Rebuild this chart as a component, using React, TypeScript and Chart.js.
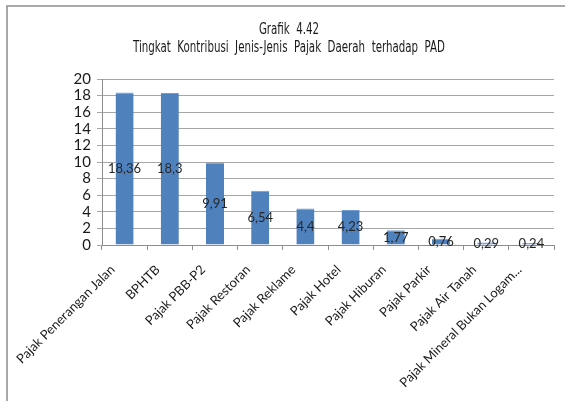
import React, { useEffect, useRef } from "react";
import { Chart, registerables } from "chart.js";

Chart.register(...registerables);

const titleLines = ["Grafik  4.42", "Tingkat  Kontribusi  Jenis-Jenis  Pajak  Daerah  terhadap  PAD"];
const categories = [
  "Pajak Penerangan Jalan",
  "BPHTB",
  "Pajak PBB-P2",
  "Pajak Restoran",
  "Pajak Reklame",
  "Pajak Hotel",
  "Pajak Hiburan",
  "Pajak Parkir",
  "Pajak Air Tanah",
  "Pajak Mineral Bukan Logam...",
];
const values = [18.36, 18.3, 9.91, 6.54, 4.4, 4.23, 1.77, 0.76, 0.29, 0.24];
const valueLabels = ["18,36", "18,3", "9,91", "6,54", "4,4", "4,23", "1,77", "0,76", "0,29", "0,24"];
const yMin = 0;
const yMax = 20;
const yStep = 2;

const LABEL_FONT = "Lato, 'Open Sans', sans-serif";
const TITLE_FONT = "'Liberation Sans Narrow', 'DejaVu Sans Condensed', sans-serif";

const framePlugin = {
  id: "frame",
  beforeDraw(chart: any) {
    const ctx = chart.ctx;
    ctx.save();
    ctx.fillStyle = "#ffffff";
    ctx.fillRect(0, 0, chart.width, chart.height);
    ctx.strokeStyle = "#8c8c8c";
    ctx.lineWidth = 1.5;
    ctx.beginPath();
    ctx.moveTo(7, chart.height);
    ctx.lineTo(7, 6);
    ctx.lineTo(chart.width, 6);
    ctx.stroke();
    ctx.restore();
  },
};

const titlePlugin = {
  id: "narrowTitle",
  afterDraw(chart: any) {
    const ctx = chart.ctx;
    ctx.save();
    ctx.font = `15px ${TITLE_FONT}`;
    ctx.fillStyle = "#1a1a1a";
    ctx.textAlign = "center";
    ctx.textBaseline = "middle";
    const natural = ctx.measureText(titleLines[1]).width;
    const ratio = Math.min(1, 312 / natural);
    const cx = 289;
    const ys = [30, 48];
    titleLines.forEach((t, i) => {
      const w = ctx.measureText(t).width * ratio;
      ctx.fillText(t, cx, ys[i], w);
    });
    ctx.restore();
  },
};

const valueLabelPlugin = {
  id: "valueLabels",
  afterDatasetsDraw(chart: any) {
    const ctx = chart.ctx;
    const meta = chart.getDatasetMeta(0);
    ctx.save();
    ctx.font = `13px ${LABEL_FONT}`;
    ctx.fillStyle = "#262626";
    ctx.textAlign = "center";
    ctx.textBaseline = "middle";
    meta.data.forEach((bar: any, i: number) => {
      const y = (bar.y + bar.base) / 2;
      ctx.fillText(valueLabels[i], bar.x, y);
    });
    ctx.restore();
  },
};

export default function App() {
  const ref = useRef<HTMLCanvasElement>(null);
  useEffect(() => {
    document.body.style.margin = "0";
    const chart = new Chart(ref.current!, {
      type: "bar",
      data: {
        labels: categories,
        datasets: [
          {
            data: values,
            backgroundColor: "#4F81BD",
            borderColor: "#6f9bd0",
            borderWidth: { top: 1, left: 0, right: 0, bottom: 0 },
            barPercentage: 0.4,
            categoryPercentage: 1,
          },
        ],
      },
      options: {
        animation: false,
        responsive: false,
        layout: { padding: { left: 0, right: 11, top: 79, bottom: 0 } },
        plugins: {
          legend: { display: false },
          tooltip: { enabled: false },
          title: { display: false },
        },
        scales: {
          x: {
            grid: { display: true, offset: true, drawOnChartArea: false, tickLength: 5, color: "#8c8c8c" },
            border: { color: "#8c8c8c" },
            ticks: {
              color: "#1a1a1a",
              font: { family: LABEL_FONT, size: 13 },
              minRotation: 45,
              maxRotation: 45,
              autoSkip: false,
              padding: 12,
              labelOffset: -12,
            },
            afterFit(scale: any) {
              scale.height = 156;
            },
          },
          y: {
            min: yMin,
            max: yMax,
            ticks: { stepSize: yStep, autoSkip: false, color: "#1a1a1a", font: { family: LABEL_FONT, size: 15 }, padding: 6 },
            grid: { color: "#a6a6a6", tickLength: 5 },
            border: { color: "#8c8c8c" },
            afterFit(scale: any) {
              scale.width = 102;
            },
          },
        },
      },
      plugins: [framePlugin, valueLabelPlugin, titlePlugin],
    } as any);
    return () => chart.destroy();
  }, []);
  return <canvas ref={ref} width={565} height={401} style={{ display: "block" }} />;
}
